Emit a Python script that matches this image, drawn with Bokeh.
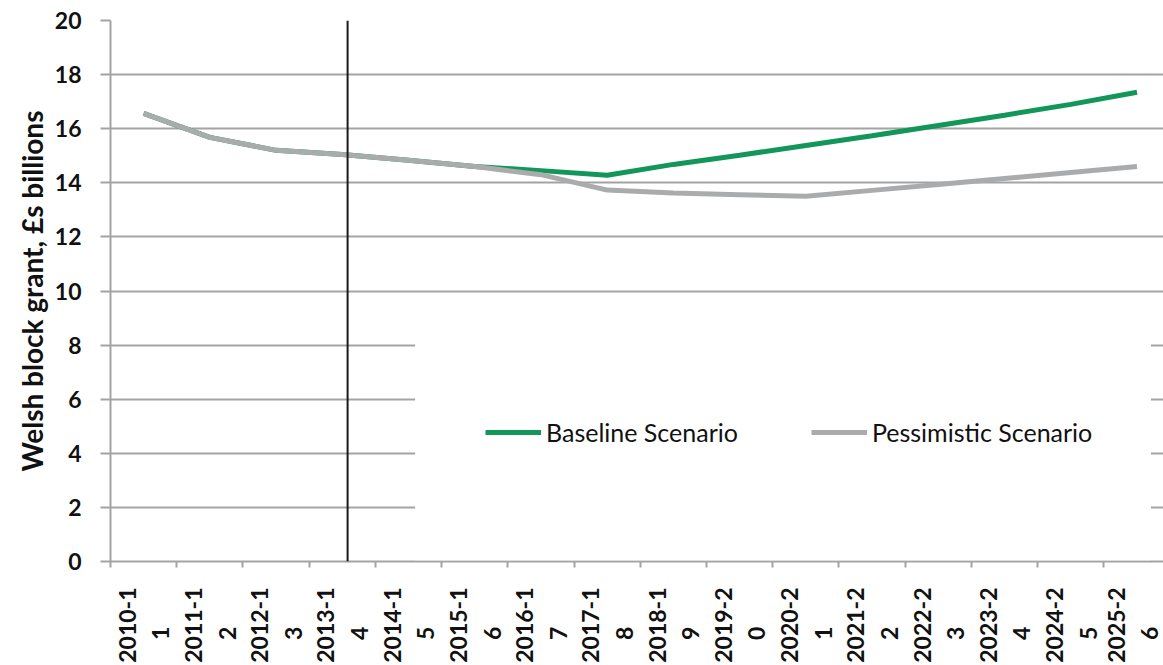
import math
from bokeh.plotting import figure
from bokeh.models import (Range1d, FixedTicker, Span, BoxAnnotation, Legend,
                          LegendItem, Title, ColumnDataSource)
from bokeh.embed import file_html
from bokeh.resources import INLINE

# ---------------- data ----------------
years = ["2010-11", "2011-12", "2012-13", "2013-14", "2014-15", "2015-16",
         "2016-17", "2017-18", "2018-19", "2019-20", "2020-21", "2021-22",
         "2022-23", "2023-24", "2024-25", "2025-26"]
baseline = [16.57, 15.68, 15.2, 15.05, 14.83, 14.6,
            14.45, 14.28, 14.68, 15.02, 15.38, 15.74,
            16.12, 16.5, 16.9, 17.35]
pessimistic = [16.57, 15.68, 15.2, 15.05, 14.83, 14.6,
               14.3, 13.73, 13.62, 13.56, 13.5, 13.72,
               13.94, 14.16, 14.38, 14.6]
y_ticks = [0, 2, 4, 6, 8, 10, 12, 14, 16, 18, 20]
divider_pos = 3.58          # vertical marker (category units)
visible_categories = 15.9   # the original chart is cropped on the right

NB = "\u00a0"
# wrapped labels like the original ("2010-1" / "1")
tick_labels = [y[:6] + "\n" + y[6:] + NB * 7 for y in years]

GRID = "#a3a3a3"
GREEN = "#12965a"
GREY = "#a9abad"
FONT = "Lato"

centers = [i + 0.5 for i in range(len(years))]
bounds = list(range(len(years) + 1))

src = ColumnDataSource(dict(x=centers, base=baseline, pess=pessimistic))

p = figure(width=1163, height=665,
           x_range=Range1d(0, visible_categories), y_range=Range1d(0, 20),
           output_backend="svg", toolbar_location=None,
           min_border_left=110, min_border_right=0,
           min_border_top=20, min_border_bottom=103)
p.outline_line_color = None
p.background_fill_color = "white"
p.border_fill_color = "white"

# grids
p.xgrid.visible = False
p.ygrid.grid_line_color = GRID
p.ygrid.grid_line_width = 2
p.ygrid.ticker = FixedTicker(ticks=y_ticks)

# y axis
ya = p.yaxis[0]
ya.ticker = FixedTicker(ticks=y_ticks)
ya.axis_line_color = GRID
ya.axis_line_width = 2
ya.major_tick_line_color = GRID
ya.major_tick_line_width = 2
ya.major_tick_out = 10
ya.major_tick_in = 0
ya.minor_tick_line_color = None
ya.major_label_standoff = 19
ya.major_label_text_font = FONT
ya.major_label_text_font_style = "bold"
ya.major_label_text_font_size = "23px"
ya.major_label_text_color = "#111111"

# x axis
xa = p.xaxis[0]
xa.ticker = FixedTicker(ticks=centers, minor_ticks=bounds)
xa.major_label_overrides = {c: l for c, l in zip(centers, tick_labels)}
xa.axis_line_color = GRID
xa.axis_line_width = 2
xa.major_tick_out = 0
xa.major_tick_in = 0
xa.minor_tick_out = 6
xa.minor_tick_in = 0
xa.minor_tick_line_color = GRID
xa.minor_tick_line_width = 2
xa.major_label_orientation = math.pi / 2
xa.major_label_standoff = 20
xa.major_label_text_font = FONT
xa.major_label_text_font_style = "bold"
xa.major_label_text_font_size = "23px"
xa.major_label_text_line_height = 1.2
xa.major_label_text_color = "#111111"

# y title
p.add_layout(Title(text="Welsh block grant, \u00a3s billions", align="center",
                   standoff=5, text_font=FONT, text_font_style="bold",
                   text_font_size="28px", text_color="#111111"), "left")

# lines
g = p.line("x", "base", source=src, line_color=GREEN, line_width=5)
r = p.line("x", "pess", source=src, line_color=GREY, line_width=5)

# divider
p.add_layout(Span(location=divider_pos, dimension="height",
                  line_color="#1a1a1a", line_width=2))

# white legend area
p.add_layout(BoxAnnotation(left=4.6, right=15.71, bottom=0.05, top=9.2,
                           fill_color="white", fill_alpha=1.0,
                           line_color=None))

legend = Legend(items=[LegendItem(label="Baseline Scenario", renderers=[g]),
                       LegendItem(label="Pessimistic Scenario", renderers=[r])],
                orientation="horizontal", location=(375, 114),
                background_fill_alpha=0, border_line_color=None,
                glyph_width=56, glyph_height=24, label_standoff=5,
                spacing=73, padding=0, margin=0,
                label_text_font=FONT, label_text_font_size="25px",
                label_text_color="#111111", label_height=24)
p.add_layout(legend)

open("out.html", "w").write(file_html(p, INLINE))
